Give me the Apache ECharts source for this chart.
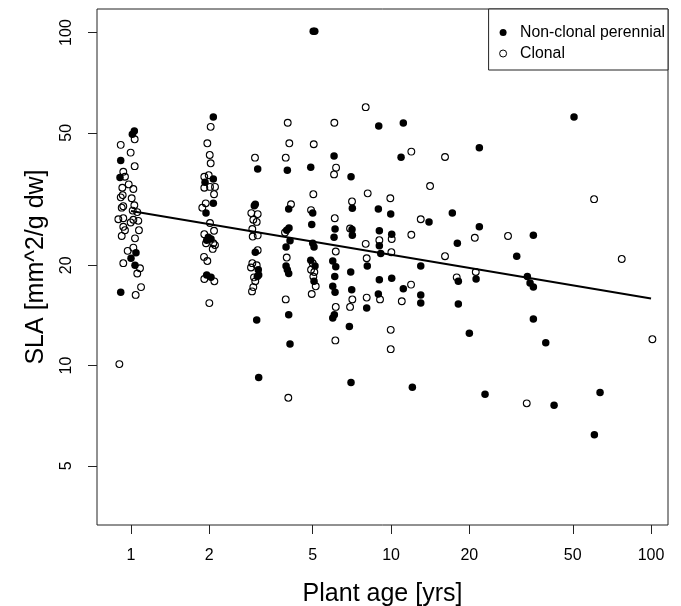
<!DOCTYPE html>
<html><head><meta charset="utf-8">
<script src="https://cdn.jsdelivr.net/npm/echarts@6/dist/echarts.min.js"></script>
<style>html,body{margin:0;padding:0;background:#fff}#c{width:681px;height:606px}</style>
</head><body><div id="c"></div>
<script>
const xTicks = [1, 2, 5, 10, 20, 50, 100];
const yTicks = [5, 10, 20, 50, 100];

const nonClonalAge = [1.03,1.012,0.913,0.907,1.045,1.0,1.036,0.913,
  2.073,1.926,2.073,2.073,1.943,1.983,1.955,2.031,1.955,2.031,
  3.071,2.98,3.006,3.006,3.087,3.098,3.06,3.044,3.098,
  3.992,4.041,4.052,3.971,4.088,3.947,3.947,3.992,4.041,4.041,4.088,
  5.02,5.09,4.912,4.999,4.955,4.999,5.057,4.912,5.102,5.057,
  6.038,6.092,6.038,5.969,6.13,6.076,5.969,6.092,6.054,5.969,
  7.017,7.099,7.079,7.099,6.998,7.06,6.915,7.017,
  8.104,8.061,
  8.969,8.938,9.017,9.017,9.129,9.017,8.938,
  9.973,10.06,10.06,
  11.15,10.93,11.15,12.08,14.0,13.01,13.01,13.01,
  17.21,17.99,18.15,18.15,20.01,21.86,21.86,21.24,22.99,
  30.44,35.27,33.44,34.25,35.27,35.27,39.36,42.37,50.56,63.66,60.54];
const nonClonalSLA = [50.6,49.5,41.3,36.7,21.8,21.0,20.0,16.6,
  55.8,35.5,36.3,30.7,28.7,24.3,23.8,24.0,18.7,18.4,
  38.9,30.2,30.5,21.9,19.4,18.7,18.5,13.7,9.2,
  38.6,29.5,25.9,25.5,23.7,22.7,19.9,19.4,18.9,14.2,11.6,
  101,101,39.4,28.7,26.5,23.3,22.7,20.7,19.9,17.9,
  42.6,25.7,24.3,20.6,19.8,18.5,17.3,16.6,14.2,13.9,
  36.9,29.7,25.6,24.6,19.1,16.9,13.1,8.9,
  19.9,14.9,
  52.4,29.5,25.4,22.9,21.7,18.1,16.4,
  28.5,24.8,18.3,
  53.5,42.2,17.0,8.6,27.0,19.9,16.3,15.4,
  28.7,23.3,17.9,15.3,12.5,45.1,26.1,18.2,8.2,
  21.3,24.6,18.5,17.7,17.2,13.8,11.7,7.6,55.8,8.3,6.2];

const clonalAge = [1.033,0.913,0.997,1.033,0.934,0.948,0.98,0.926,1.021,0.929,0.913,1.006,
  0.934,0.921,1.03,1.015,1.057,0.894,0.934,1.021,0.997,1.067,0.934,0.948,1.073,0.921,
  1.036,1.021,0.971,0.934,1.083,1.057,1.093,1.042,0.902,
  2.025,1.966,2.008,2.025,1.914,1.99,2.104,1.914,2.013,2.086,1.938,1.88,2.013,2.086,
  1.914,2.073,1.943,2.104,2.062,1.909,1.966,1.914,2.092,2.001,
  2.998,2.902,3.071,2.954,3.044,2.928,2.938,3.071,3.071,2.928,3.044,2.894,2.972,3.006,2.954,2.92,
  4.006,4.063,3.936,4.124,3.911,3.971,3.936,4.027,
  5.044,5.026,4.925,4.999,4.925,5.07,5.026,5.133,4.955,
  6.054,6.147,6.038,6.076,6.13,6.13,6.108,
  7.079,6.958,7.099,6.958,
  7.991,8.134,7.991,8.061,8.061,
  9.017,9.073,
  9.938,10.06,10.03,9.973,9.973,
  11.97,11.97,11.94,11.0,13.01,14.13,16.13,16.13,17.89,21.0,21.18,28.18,33.26,60.38,77.14,101.2];
const clonalSLA = [47.8,46.0,43.6,39.7,38.2,36.9,35.0,34.2,33.9,32.5,32.0,31.8,
  30.1,29.8,30.3,29.2,28.9,27.5,27.7,27.4,26.9,27.2,26.1,25.5,25.5,24.5,
  24.1,22.6,22.1,20.3,19.6,18.9,17.2,16.3,10.1,
  52.1,46.5,42.9,40.5,36.9,37.3,34.4,34.2,34.4,32.7,30.7,29.8,26.8,25.4,
  24.8,23.3,23.3,23.0,22.4,21.2,20.6,18.2,17.9,15.4,
  42.1,28.7,28.5,27.4,27.0,25.7,24.4,24.6,22.2,20.3,20.0,19.7,18.4,17.9,17.2,16.7,
  53.6,46.5,42.1,30.5,25.1,21.1,15.8,8.0,
  46.2,32.7,29.3,20.3,19.4,19.1,18.5,17.3,16.4,
  53.6,39.3,37.5,27.7,22.0,15.0,11.9,
  31.1,25.8,15.8,15.0,
  59.7,32.9,23.2,21.0,16.0,
  23.8,15.8,
  31.8,24.0,21.9,12.8,11.2,
  43.9,24.7,17.5,15.6,27.5,34.6,42.3,21.3,18.4,24.2,19.1,24.5,7.7,31.6,20.9,12.0];

const fitAge = [1, 100];
const fitSLA = [29.1, 15.9];

const FONT = '"Liberation Sans", Arial, Helvetica, sans-serif';
const pairs = (a, b) => a.map((v, i) => [v, b[i]]);

const chart = echarts.init(document.getElementById('c'), null, {renderer: 'canvas'});
chart.setOption({
  animation: false,
  backgroundColor: '#fff',
  textStyle: {fontFamily: FONT},
  grid: {left: 97, right: 13, top: 9, bottom: 81, show: true, borderColor: '#222', borderWidth: 1,
         backgroundColor: 'transparent', containLabel: false, outerBoundsMode: 'none'},
  legend: {
    orient: 'vertical', right: 13, top: 9,
    data: ['Non-clonal perennial', 'Clonal'],
    itemWidth: 24, itemHeight: 7, itemGap: 0,
    padding: [13, 3, 6, 10.5],
    borderColor: '#222', borderWidth: 1, backgroundColor: '#fff',
    icon: 'circle',
    itemStyle: {borderWidth: 1},
    textStyle: {fontSize: 15.8, lineHeight: 21, color: '#000', fontFamily: FONT}
  },
  xAxis: {
    type: 'log', logBase: 10, min: 0.74, max: 116.2,
    axisLine: {show: false},
    axisTick: {show: true, inside: false, length: 9, customValues: xTicks, lineStyle: {color: '#222', width: 1}},
    axisLabel: {customValues: xTicks, fontSize: 16, color: '#000', margin: 23, fontFamily: FONT,
                formatter: v => String(Math.round(v))},
    splitLine: {show: false}, minorTick: {show: false},
    name: 'Plant age [yrs]', nameLocation: 'middle', nameGap: 57,
    nameTextStyle: {fontSize: 25, color: '#000', fontFamily: FONT}
  },
  yAxis: {
    type: 'log', logBase: 10, min: 3.32, max: 117.7,
    axisLine: {show: false},
    axisTick: {show: true, inside: false, length: 9, customValues: yTicks, lineStyle: {color: '#222', width: 1}},
    axisLabel: {customValues: yTicks, rotate: 90, fontSize: 16, color: '#000', margin: 22, fontFamily: FONT,
                formatter: v => String(Math.round(v))},
    splitLine: {show: false}, minorTick: {show: false},
    name: 'SLA [mm^2/g dw]', nameLocation: 'middle', nameGap: 48, nameRotate: 90,
    nameTextStyle: {fontSize: 25, color: '#000', fontFamily: FONT}
  },
  series: [
    {name: 'Non-clonal perennial', type: 'scatter', symbol: 'circle', symbolSize: 7.5,
     itemStyle: {color: '#000', opacity: 1}, data: pairs(nonClonalAge, nonClonalSLA)},
    {name: 'Clonal', type: 'scatter', symbol: 'circle', symbolSize: 6.8,
     itemStyle: {color: 'rgba(255,255,255,0)', borderColor: '#000', borderWidth: 1.1, opacity: 1},
     data: pairs(clonalAge, clonalSLA)},
    {name: 'fit', type: 'line', showSymbol: false, symbol: 'none', silent: true,
     lineStyle: {color: '#000', width: 2}, data: pairs(fitAge, fitSLA), z: 5}
  ]
});
</script></body></html>
